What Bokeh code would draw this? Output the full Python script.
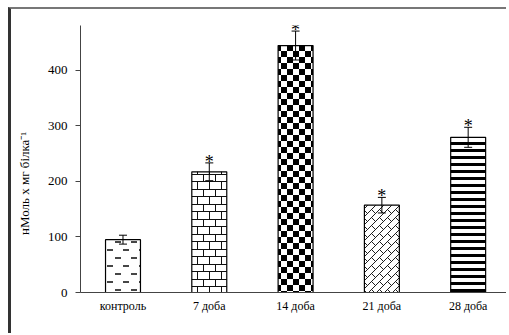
import struct, zlib, base64
from bokeh.plotting import figure
from bokeh.models import (ColumnDataSource, Whisker, TeeHead, FixedTicker,
                          ImageURLTexture, Range1d)
from bokeh.core.properties import value
from bokeh.embed import file_html
from bokeh.resources import INLINE

# ---- data ----
categories = ["контроль", "7 доба", "14 доба", "21 доба", "28 доба"]
means = [95, 217, 444, 157, 279]
errors = [8, 16, 26, 14, 18]
significant = [False, True, True, True, True]
y_ticks = [0, 100, 200, 300, 400]

# ---- pattern textures (style only) ----
def png_uri(rows):
    h = len(rows); w = len(rows[0])
    raw = b"".join(b"\x00" + bytes(r) for r in rows)
    def chunk(tag, data):
        return (struct.pack(">I", len(data)) + tag + data +
                struct.pack(">I", zlib.crc32(tag + data) & 0xffffffff))
    png = (b"\x89PNG\r\n\x1a\n" +
           chunk(b"IHDR", struct.pack(">IIBBBBB", w, h, 8, 0, 0, 0, 0)) +
           chunk(b"IDAT", zlib.compress(raw)) + chunk(b"IEND", b""))
    return "data:image/png;base64," + base64.b64encode(png).decode()

def tile(w, h, fn):
    return [[fn(x, y) for x in range(w)] for y in range(h)]

def dashes(x, y):
    if y in (0, 1) and x < 6: return 70
    if y in (8, 9) and 8 <= x < 14: return 70
    return 255

def brick(x, y):
    if y == 0 or y == 7: return 15
    if y < 7 and x == 0: return 15
    if y > 7 and x == 6: return 15
    return 255

def checker(x, y):
    return 0 if ((x // 6 + y // 6) % 2 == 0) else 255

def scales(x, y):
    if (x + y) % 8 == 0: return 30
    band = ((x + y) // 8) % 2
    if band == 0 and (x - y) % 16 == 0: return 30
    if band == 1 and (x - y) % 16 == 8: return 30
    return 255

def stripes(x, y):
    return 0 if y < 3 else 255

textures = {
    "p0": ImageURLTexture(url=png_uri(tile(16, 16, dashes)), repetition="repeat"),
    "p1": ImageURLTexture(url=png_uri(tile(12, 15, brick)), repetition="repeat"),
    "p2": ImageURLTexture(url=png_uri(tile(12, 12, checker)), repetition="repeat"),
    "p3": ImageURLTexture(url=png_uri(tile(16, 16, scales)), repetition="repeat"),
    "p4": ImageURLTexture(url=png_uri(tile(4, 7, stripes)), repetition="repeat"),
}
pattern_names = ["p0", "p1", "p2", "p3", "p4"]

xs = list(range(len(categories)))
src = ColumnDataSource(dict(
    x=xs, top=means,
    upper=[m + e for m, e in zip(means, errors)],
    lower=[m - e for m, e in zip(means, errors)],
    pat=pattern_names,
))
sig_src = ColumnDataSource(dict(
    x=[x for x, s in zip(xs, significant) if s],
    y=[m + e for m, e, s in zip(means, errors, significant) if s],
    t=["*" for s in significant if s],
))

p = figure(width=498, height=326, output_backend="svg", toolbar_location=None,
           x_range=Range1d(-0.4925, 4.479), y_range=Range1d(0, 480),
           min_border_left=69, min_border_right=0, min_border_top=16,
           min_border_bottom=43)
p.styles = {"border-left": "3px solid #333333", "border-top": "2px solid #777777",
            "margin-left": "8px", "margin-top": "7px"}
p.outline_line_color = None
p.xgrid.grid_line_color = None
p.ygrid.grid_line_color = None
p.background_fill_color = "white"
p.border_fill_color = "white"

p.vbar(x="x", top="top", bottom=0, width=0.405, source=src,
       fill_color="white", line_color="black", line_width=1.2,
       hatch_pattern="pat", hatch_extra=textures, hatch_alpha=1.0)

wh = Whisker(base="x", upper="upper", lower="lower", source=src, level="overlay",
             line_color="black", line_width=1,
             upper_head=TeeHead(size=8, line_color="black", line_width=1),
             lower_head=TeeHead(size=8, line_color="black", line_width=1))
p.add_layout(wh)

p.text(x="x", y="y", text="t", source=sig_src, text_align="center",
       text_baseline="alphabetic", y_offset=-1,
       text_font=value("Liberation Serif"), text_font_size="18px",
       text_color="black")

font = "Liberation Serif"
p.xaxis.ticker = FixedTicker(ticks=xs)
p.xaxis.major_label_overrides = {i: c for i, c in zip(xs, categories)}
p.xaxis.major_tick_line_color = None
p.xaxis.minor_tick_line_color = None
p.xaxis.axis_line_color = "#444444"
p.xaxis.major_label_text_font = font
p.xaxis.major_label_text_font_size = "12px"
p.xaxis.major_label_text_color = "black"
p.xaxis.major_label_standoff = 0

p.yaxis.ticker = FixedTicker(ticks=y_ticks)
p.yaxis.minor_tick_line_color = None
p.yaxis.major_tick_in = 0
p.yaxis.major_tick_out = 5
p.yaxis.major_tick_line_color = "#444444"
p.yaxis.axis_line_color = "#444444"
p.yaxis.major_label_text_font = font
p.yaxis.major_label_text_font_size = "13px"
p.yaxis.major_label_text_color = "black"
p.yaxis.major_label_standoff = 8
p.yaxis.axis_label = "нМоль х мг білка⁻¹" + "\u00a0" * 15
p.yaxis.axis_label_text_font = font
p.yaxis.axis_label_text_font_size = "13px"
p.yaxis.axis_label_text_font_style = "normal"
p.yaxis.axis_label_text_color = "black"
p.yaxis.axis_label_standoff = 13

open("out.html", "w").write(file_html(p, INLINE))
